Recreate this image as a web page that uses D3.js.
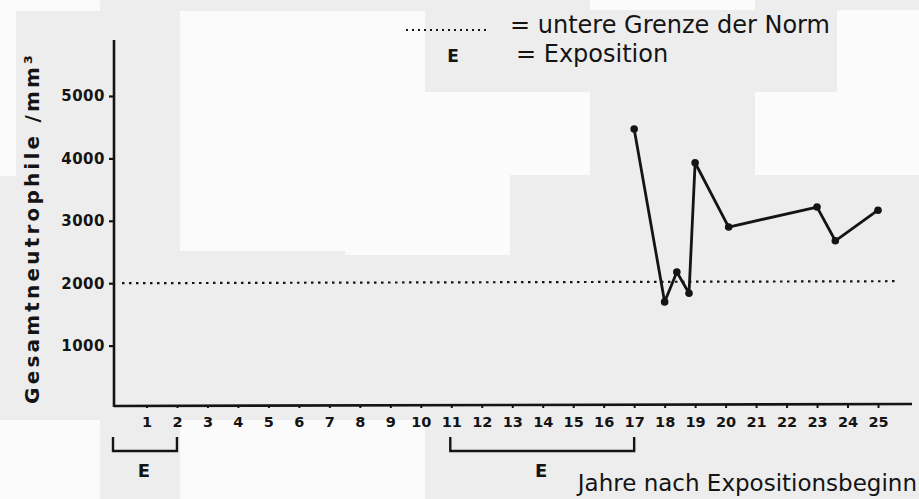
<!DOCTYPE html>
<html><head><meta charset="utf-8">
<script src="https://cdn.jsdelivr.net/npm/d3@7"></script>
<style>body{margin:0;background:#eeeeee;} svg{display:block;}</style>
</head><body>
<svg id="chart" width="919" height="499"></svg>
<script>
// Data
const years = [17, 18, 18.4, 18.8, 19, 20.1, 23, 23.6, 25];
const values = [4470, 1700, 2180, 1840, 3930, 2900, 3220, 2680, 3170];
const xTicks = d3.range(1, 26);
const yTicks = [1000, 2000, 3000, 4000, 5000];
const normLimit = 2000;
const exposures = [[0, 2], [11, 17]];
const legendItems = ["= untere Grenze der Norm", "= Exposition"];

const svg = d3.select("#chart");
const ink = "#141414";
const font = "'DejaVu Sans', sans-serif";

// scan background blocks
const bg = svg.append("g");
bg.append("rect").attr("width", 919).attr("height", 499).attr("fill", "#ededed");
[[0,0,100,11],[180,11,165,240],[345,92,165,163],[510,92,80,83],[755,92,164,83],[837,10,82,82],[0,420,100,79],[180,420,245,79],[345,11,80,81],[590,0,165,10],[0,11,16,165]]
  .forEach(r => bg.append("rect").attr("x", r[0]).attr("y", r[1]).attr("width", r[2]).attr("height", r[3]).attr("fill", "#fbfbfb"));

const x = d3.scaleLinear().domain([0, 25]).range([116, 878]);
const y = d3.scaleLinear().domain([0, 5000]).range([408, 96]);

// axes lines
svg.append("line").attr("x1", 114).attr("x2", 114).attr("y1", 40).attr("y2", 407)
  .attr("stroke", ink).attr("stroke-width", 2.6);
svg.append("line").attr("x1", 114).attr("x2", 912).attr("y1", 406).attr("y2", 404)
  .attr("stroke", ink).attr("stroke-width", 2.6);

// y axis
const yAxis = svg.append("g").attr("transform", "translate(114,0)")
  .call(d3.axisLeft(y).tickValues(yTicks).tickSize(5).tickPadding(4).tickFormat(d3.format("d")));
yAxis.select(".domain").remove();
yAxis.selectAll("line").attr("stroke", ink).attr("stroke-width", 2.2);
yAxis.selectAll("text").attr("font-family", font).attr("font-weight", "bold")
  .attr("font-size", 15).attr("letter-spacing", 0.5).attr("fill", ink);

// x axis
const xAxis = svg.append("g").attr("transform", "translate(0,405)")
  .call(d3.axisBottom(x).tickValues(xTicks).tickSize(3).tickPadding(9).tickFormat(d3.format("d")));
xAxis.select(".domain").remove();
xAxis.selectAll("line").attr("stroke", ink).attr("stroke-width", 2);
xAxis.selectAll("text").attr("font-family", font).attr("font-weight", "bold")
  .attr("font-size", 14.5).attr("fill", ink);

// norm line
svg.append("line").attr("x1", 122).attr("x2", 897)
  .attr("y1", y(normLimit)).attr("y2", y(normLimit) - 2)
  .attr("stroke", ink).attr("stroke-width", 2.2).attr("stroke-dasharray", "2.5,4.5");

// data line
const line = d3.line().x((d, i) => x(years[i])).y(d => y(d));
svg.append("path").datum(values).attr("d", line).attr("fill", "none")
  .attr("stroke", ink).attr("stroke-width", 2.8).attr("stroke-linejoin", "round");
svg.selectAll("circle.pt").data(values).join("circle").attr("class", "pt")
  .attr("cx", (d, i) => x(years[i])).attr("cy", d => y(d)).attr("r", 3.8).attr("fill", ink);

// exposure brackets
exposures.forEach(([a, b]) => {
  const x0 = a === 0 ? 113 : x(a) - 1, x1 = x(b);
  svg.append("path").attr("d", `M${x0},437 L${x0},451 L${x1},451 L${x1},437`)
    .attr("fill", "none").attr("stroke", ink).attr("stroke-width", 2.4);
  svg.append("text").attr("x", (x0 + x1) / 2 - 1).attr("y", 477).attr("text-anchor", "middle")
    .attr("font-family", font).attr("font-weight", "bold").attr("font-size", 18).attr("fill", ink).text("E");
});

// y label
svg.append("text").attr("transform", "translate(39,228) rotate(-90)").attr("text-anchor", "middle")
  .attr("font-family", font).attr("font-weight", "bold").attr("font-size", 20).attr("fill", ink)
  .attr("letter-spacing", 3.2).text("Gesamtneutrophile /mm³");

// x label
svg.append("text").attr("x", 917).attr("y", 491).attr("text-anchor", "end")
  .attr("font-family", font).attr("font-size", 23).attr("fill", ink).text("Jahre nach Expositionsbeginn");

// legend
svg.append("line").attr("x1", 406).attr("x2", 490).attr("y1", 30).attr("y2", 30)
  .attr("stroke", ink).attr("stroke-width", 2).attr("stroke-dasharray", "2,4");
svg.append("text").attr("x", 453).attr("y", 62).attr("text-anchor", "middle")
  .attr("font-family", font).attr("font-weight", "bold").attr("font-size", 17).attr("fill", ink).text("E");
svg.append("text").attr("x", 510).attr("y", 33).attr("font-family", font).attr("font-size", 24)
  .attr("fill", ink).text(legendItems[0]);
svg.append("text").attr("x", 516).attr("y", 62).attr("font-family", font).attr("font-size", 24)
  .attr("fill", ink).text(legendItems[1]);
</script>
</body></html>
